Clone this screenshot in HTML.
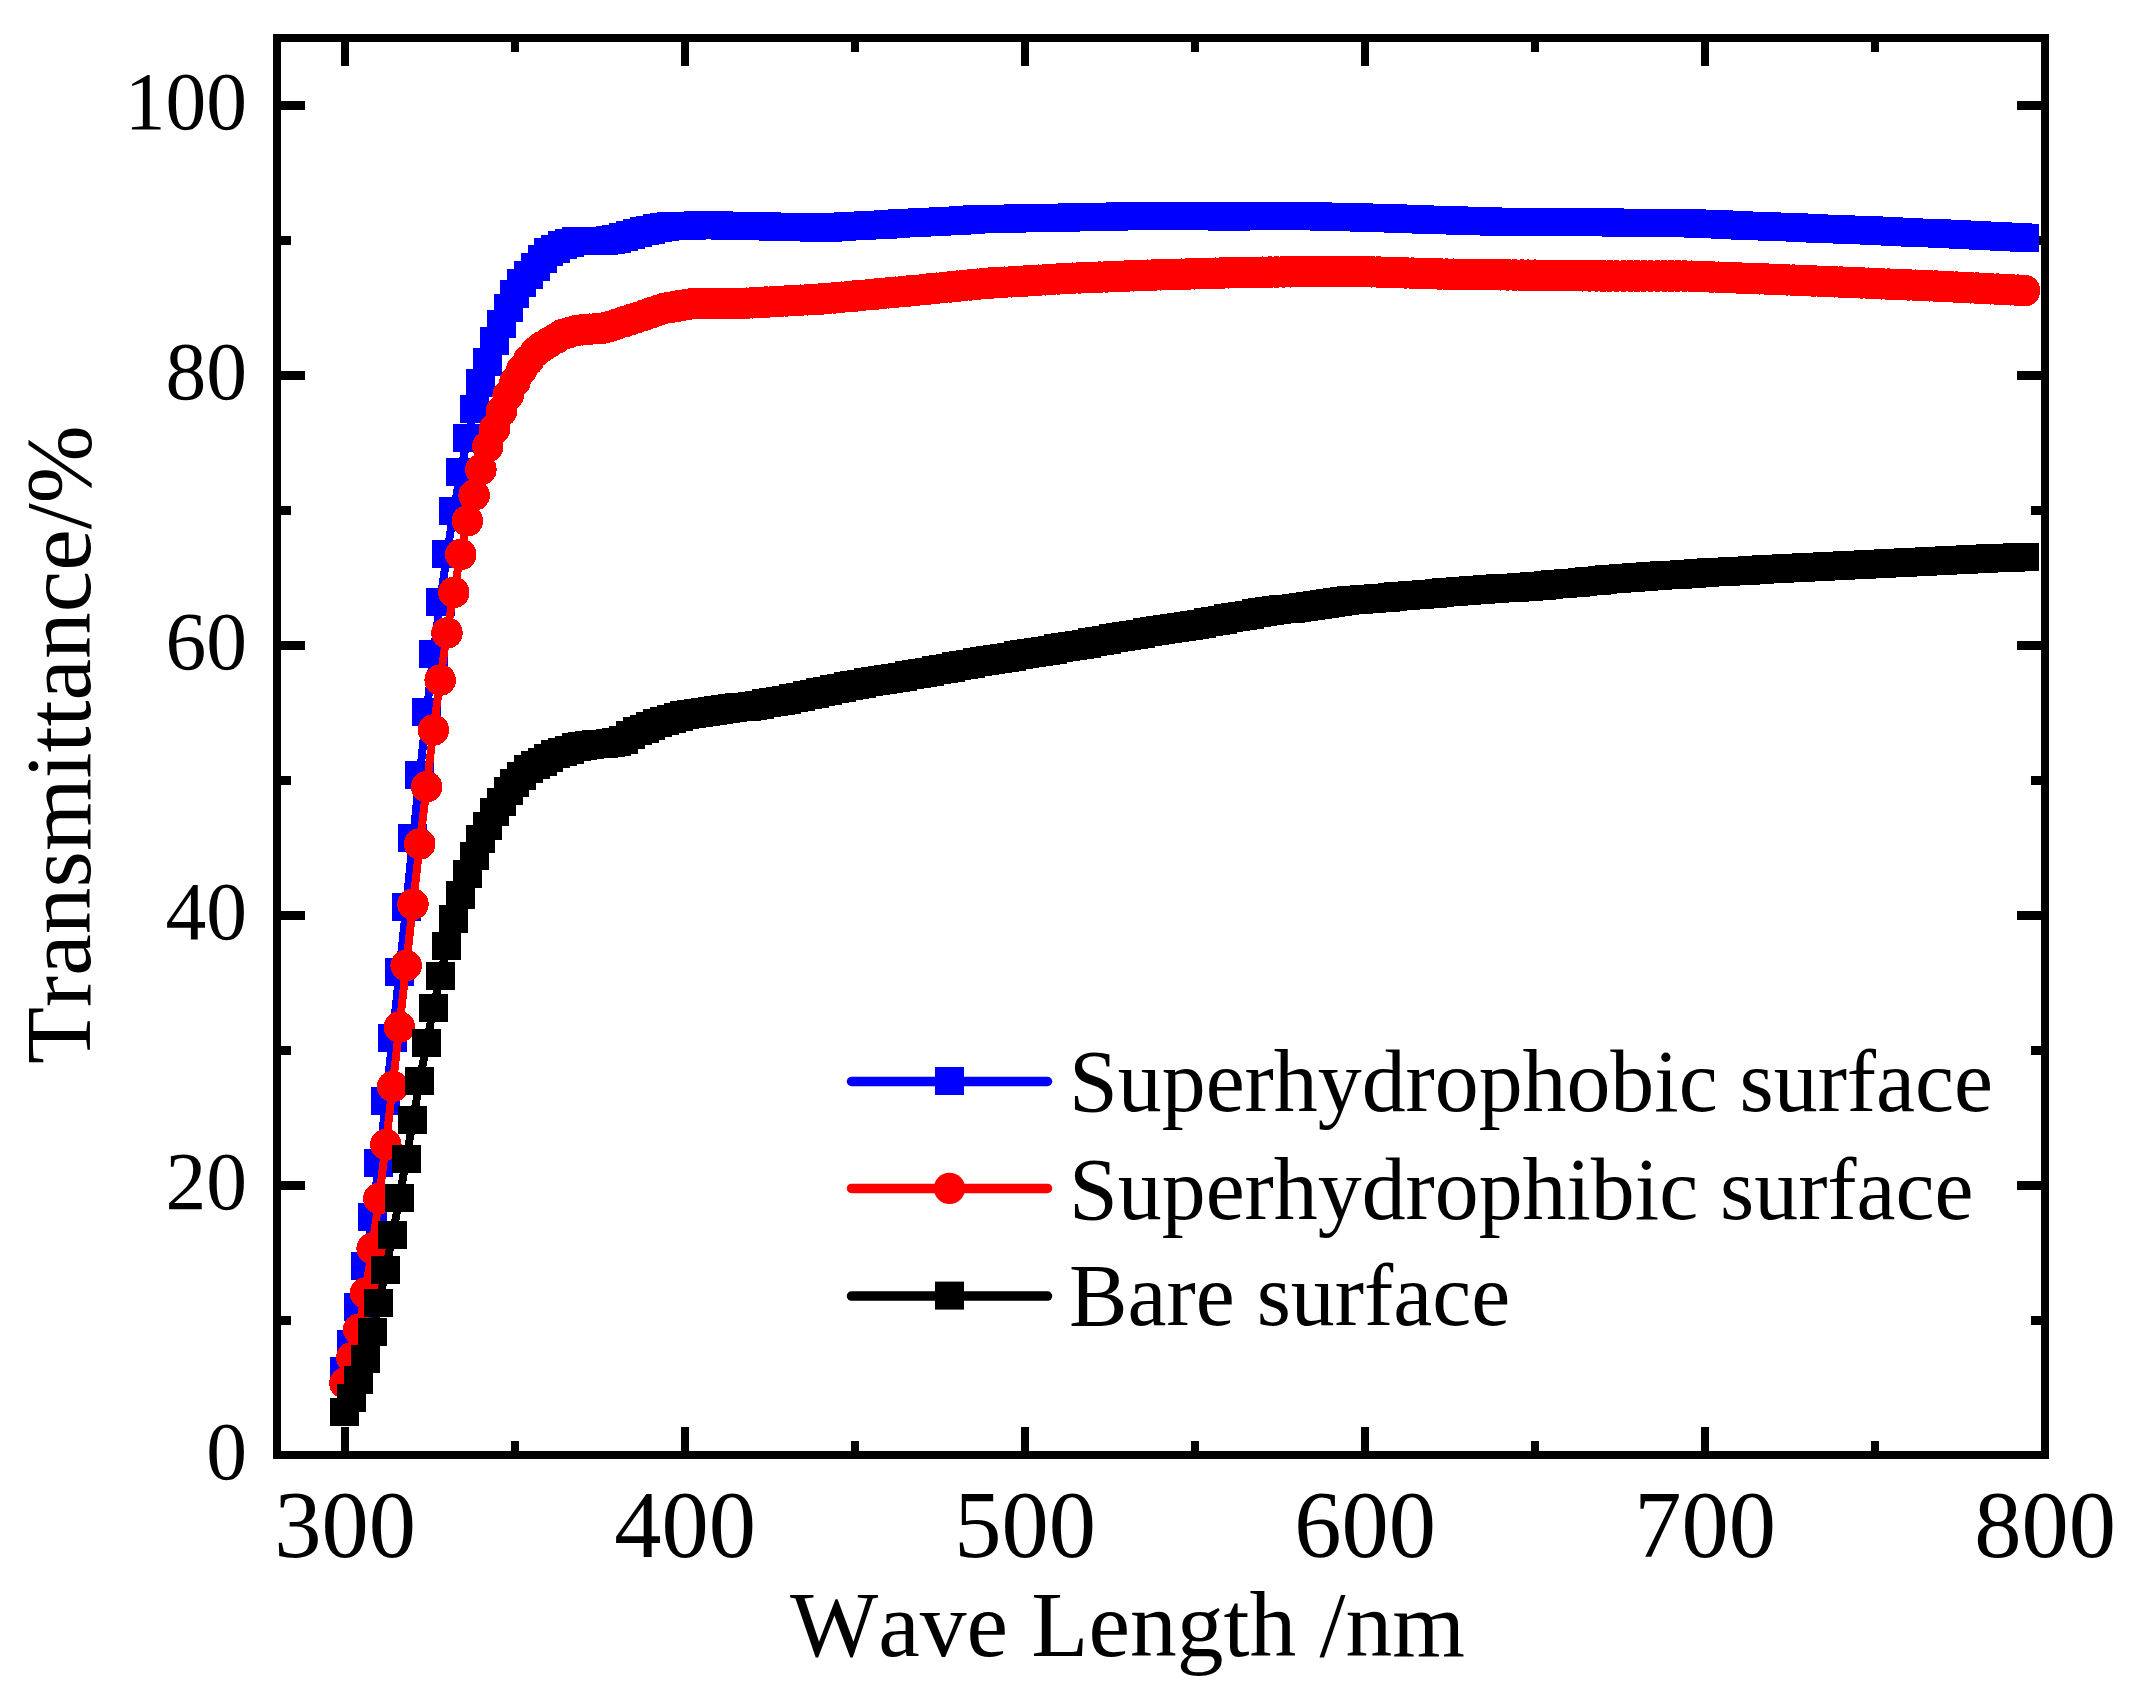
<!DOCTYPE html>
<html lang="en"><head><meta charset="utf-8"><title>Transmittance vs Wave Length</title>
<style>
html,body{margin:0;padding:0;background:#fff;}
body{width:2138px;height:1701px;overflow:hidden;}
svg{display:block;}
text{font-family:"Liberation Serif","Times New Roman",serif;fill:#000;font-kerning:none;}
.yt{font-size:81.5px;text-anchor:end;}
.xt{font-size:94.5px;text-anchor:middle;}
.ttl{font-size:93.5px;}
.lg{font-size:87.8px;}
</style></head><body>
<svg width="2138" height="1701" viewBox="0 0 2138 1701">
<rect width="2138" height="1701" fill="#fff"/>

<g fill="#000" shape-rendering="crispEdges">
<rect x="341" y="42" width="8" height="24"/>
<rect x="341" y="1427" width="8" height="24"/>
<rect x="681" y="42" width="8" height="24"/>
<rect x="681" y="1427" width="8" height="24"/>
<rect x="1021" y="42" width="8" height="24"/>
<rect x="1021" y="1427" width="8" height="24"/>
<rect x="1361" y="42" width="8" height="24"/>
<rect x="1361" y="1427" width="8" height="24"/>
<rect x="1701" y="42" width="8" height="24"/>
<rect x="1701" y="1427" width="8" height="24"/>
<rect x="511" y="42" width="8" height="10"/>
<rect x="511" y="1441" width="8" height="10"/>
<rect x="851" y="42" width="8" height="10"/>
<rect x="851" y="1441" width="8" height="10"/>
<rect x="1191" y="42" width="8" height="10"/>
<rect x="1191" y="1441" width="8" height="10"/>
<rect x="1531" y="42" width="8" height="10"/>
<rect x="1531" y="1441" width="8" height="10"/>
<rect x="1871" y="42" width="8" height="10"/>
<rect x="1871" y="1441" width="8" height="10"/>
<rect x="281" y="1180.5" width="24" height="9"/>
<rect x="2017" y="1180.5" width="24" height="9"/>
<rect x="281" y="910.5" width="24" height="9"/>
<rect x="2017" y="910.5" width="24" height="9"/>
<rect x="281" y="640.5" width="24" height="9"/>
<rect x="2017" y="640.5" width="24" height="9"/>
<rect x="281" y="370.5" width="24" height="9"/>
<rect x="2017" y="370.5" width="24" height="9"/>
<rect x="281" y="100.5" width="24" height="9"/>
<rect x="2017" y="100.5" width="24" height="9"/>
<rect x="281" y="1315.5" width="10" height="9"/>
<rect x="2031" y="1315.5" width="10" height="9"/>
<rect x="281" y="1045.5" width="10" height="9"/>
<rect x="2031" y="1045.5" width="10" height="9"/>
<rect x="281" y="775.5" width="10" height="9"/>
<rect x="2031" y="775.5" width="10" height="9"/>
<rect x="281" y="505.5" width="10" height="9"/>
<rect x="2031" y="505.5" width="10" height="9"/>
<rect x="281" y="235.5" width="10" height="9"/>
<rect x="2031" y="235.5" width="10" height="9"/>
</g>
<rect x="277" y="38" width="1768" height="1417" fill="none" stroke="#000" stroke-width="8" shape-rendering="crispEdges"/>
<g shape-rendering="crispEdges">
<polyline points="345,1371.3 351.8,1343.6 358.6,1307.2 365.4,1266 372.2,1217.4 379,1162.6 385.8,1101.3 392.6,1037.8 399.4,971.7 406.2,906.9 413,838.5 419.8,774.6 426.6,712.5 433.4,654.5 440.2,601.8 447,553.9 453.8,510.7 460.6,472.2 467.4,438.5 474.2,408.8 481,383.1 487.8,361.5 494.6,341.2 501.4,323.7 508.2,307.5 515,294 521.8,283.2 528.6,275.1 535.4,267 542.2,258.9 549,252.2 555.8,249.5 562.6,245.4 569.4,243.4 576.2,241.3 583,241.3 589.8,241.3 596.6,241.3 603.4,241.3 610.2,240.4 617,238.6 623.8,236.7 630.6,234.8 637.4,233 644.2,231.4 651,229.9 657.8,228.3 664.6,226.7 671.4,226.3 678.2,226.1 685,225.9 691.8,225.6 698.6,225.4 705.4,225.2 712.2,225.3 719,225.4 725.8,225.5 732.6,225.6 739.4,225.8 746.2,225.9 753,226.1 759.8,226.3 766.6,226.4 773.4,226.6 780.2,226.8 787,226.9 793.8,227.1 800.6,227.3 807.4,227.4 814.2,227.6 821,227.8 827.8,227.6 834.6,227.2 841.4,226.9 848.2,226.5 855,226.1 861.8,225.7 868.6,225.3 875.4,225 882.2,224.6 889,224.2 895.8,223.8 902.6,223.4 909.4,223.1 916.2,222.7 923,222.3 929.8,222 936.6,221.6 943.4,221.3 950.2,220.9 957,220.5 963.8,220.2 970.6,219.8 977.4,219.5 984.2,219.1 991,218.9 997.8,218.7 1004.6,218.6 1011.4,218.5 1018.2,218.4 1025,218.3 1031.8,218.1 1038.6,218 1045.4,217.9 1052.2,217.8 1059,217.6 1065.8,217.5 1072.6,217.4 1079.4,217.2 1086.2,217.1 1093,216.9 1099.8,216.8 1106.6,216.7 1113.4,216.5 1120.2,216.4 1127,216.2 1133.8,216.1 1140.6,215.9 1147.4,215.8 1154.2,215.7 1161,215.8 1167.8,215.9 1174.6,216 1181.4,216.1 1188.2,216.1 1195,216.2 1201.8,216.3 1208.6,216.4 1215.4,216.4 1222.2,216.5 1229,216.6 1235.8,216.6 1242.6,216.5 1249.4,216.3 1256.2,216.2 1263,216.1 1269.8,215.9 1276.6,215.8 1283.4,215.7 1290.2,215.9 1297,216 1303.8,216.2 1310.6,216.3 1317.4,216.5 1324.2,216.7 1331,216.8 1337.8,217 1344.6,217.1 1351.4,217.3 1358.2,217.4 1365,217.6 1371.8,217.8 1378.6,218 1385.4,218.3 1392.2,218.5 1399,218.7 1405.8,218.9 1412.6,219.1 1419.4,219.3 1426.2,219.5 1433,219.7 1439.8,220 1446.6,220.2 1453.4,220.4 1460.2,220.6 1467,220.8 1473.8,221 1480.6,221.2 1487.4,221.4 1494.2,221.6 1501,221.8 1507.8,222 1514.6,222.2 1521.4,222.4 1528.2,222.5 1535,222.5 1541.8,222.5 1548.6,222.5 1555.4,222.5 1562.2,222.5 1569,222.5 1575.8,222.5 1582.6,222.5 1589.4,222.5 1596.2,222.5 1603,222.5 1609.8,222.5 1616.6,222.6 1623.4,222.6 1630.2,222.7 1637,222.8 1643.8,222.8 1650.6,222.9 1657.4,223 1664.2,223 1671,223.1 1677.8,223.2 1684.6,223.2 1691.4,223.4 1698.2,223.7 1705,224 1711.8,224.2 1718.6,224.5 1725.4,224.8 1732.2,225 1739,225.3 1745.8,225.6 1752.6,225.8 1759.4,226.1 1766.2,226.4 1773,226.6 1779.8,226.9 1786.6,227.2 1793.4,227.5 1800.2,227.7 1807,228 1813.8,228.3 1820.6,228.5 1827.4,228.8 1834.2,229.1 1841,229.3 1847.8,229.6 1854.6,229.9 1861.4,230.2 1868.2,230.5 1875,230.8 1881.8,231.1 1888.6,231.3 1895.4,231.6 1902.2,231.9 1909,232.2 1915.8,232.5 1922.6,232.8 1929.4,233.1 1936.2,233.4 1943,233.8 1949.8,234.1 1956.6,234.4 1963.4,234.8 1970.2,235.1 1977,235.4 1983.8,235.8 1990.6,236.1 1997.4,236.5 2004.2,236.8 2011,237.1 2017.8,237.4 2024.6,237.7" fill="none" stroke="#0000ff" stroke-width="8" stroke-linejoin="round"/>
<path d="M330,1357h29v28h-29zM337,1330h29v28h-29zM344,1293h29v28h-29zM351,1252h29v28h-29zM358,1203h29v28h-29zM364,1149h29v28h-29zM371,1087h29v28h-29zM378,1024h29v28h-29zM385,958h29v28h-29zM392,893h29v28h-29zM398,824h29v28h-29zM405,761h29v28h-29zM412,698h29v28h-29zM419,640h29v28h-29zM426,588h29v28h-29zM432,540h29v28h-29zM439,497h29v28h-29zM446,458h29v28h-29zM453,424h29v28h-29zM460,395h29v28h-29zM466,369h29v28h-29zM473,348h29v28h-29zM480,327h29v28h-29zM487,310h29v28h-29zM494,294h29v28h-29zM500,280h29v28h-29zM507,269h29v28h-29zM514,261h29v28h-29zM521,253h29v28h-29zM528,245h29v28h-29zM534,238h29v28h-29zM541,235h29v28h-29zM548,231h29v28h-29zM555,229h29v28h-29zM562,227h29v28h-29zM568,227h29v28h-29zM575,227h29v28h-29zM582,227h29v28h-29zM589,227h29v28h-29zM596,226h29v28h-29zM602,225h29v28h-29zM609,223h29v28h-29zM616,221h29v28h-29zM623,219h29v28h-29zM630,217h29v28h-29zM636,216h29v28h-29zM643,214h29v28h-29zM650,213h29v28h-29zM657,212h29v28h-29zM664,212h29v28h-29zM670,212h29v28h-29zM677,212h29v28h-29zM684,211h29v28h-29zM691,211h29v28h-29zM698,211h29v28h-29zM704,211h29v28h-29zM711,212h29v28h-29zM718,212h29v28h-29zM725,212h29v28h-29zM732,212h29v28h-29zM738,212h29v28h-29zM745,212h29v28h-29zM752,212h29v28h-29zM759,213h29v28h-29zM766,213h29v28h-29zM772,213h29v28h-29zM779,213h29v28h-29zM786,213h29v28h-29zM793,213h29v28h-29zM800,214h29v28h-29zM806,214h29v28h-29zM813,214h29v28h-29zM820,213h29v28h-29zM827,213h29v28h-29zM834,212h29v28h-29zM840,212h29v28h-29zM847,212h29v28h-29zM854,211h29v28h-29zM861,211h29v28h-29zM868,211h29v28h-29zM874,210h29v28h-29zM881,210h29v28h-29zM888,209h29v28h-29zM895,209h29v28h-29zM902,209h29v28h-29zM908,208h29v28h-29zM915,208h29v28h-29zM922,208h29v28h-29zM929,207h29v28h-29zM936,207h29v28h-29zM942,207h29v28h-29zM949,206h29v28h-29zM956,206h29v28h-29zM963,205h29v28h-29zM970,205h29v28h-29zM976,205h29v28h-29zM983,205h29v28h-29zM990,205h29v28h-29zM997,205h29v28h-29zM1004,204h29v28h-29zM1010,204h29v28h-29zM1017,204h29v28h-29zM1024,204h29v28h-29zM1031,204h29v28h-29zM1038,204h29v28h-29zM1044,204h29v28h-29zM1051,204h29v28h-29zM1058,203h29v28h-29zM1065,203h29v28h-29zM1072,203h29v28h-29zM1078,203h29v28h-29zM1085,203h29v28h-29zM1092,203h29v28h-29zM1099,203h29v28h-29zM1106,202h29v28h-29zM1112,202h29v28h-29zM1119,202h29v28h-29zM1126,202h29v28h-29zM1133,202h29v28h-29zM1140,202h29v28h-29zM1146,202h29v28h-29zM1153,202h29v28h-29zM1160,202h29v28h-29zM1167,202h29v28h-29zM1174,202h29v28h-29zM1180,202h29v28h-29zM1187,202h29v28h-29zM1194,202h29v28h-29zM1201,202h29v28h-29zM1208,203h29v28h-29zM1214,203h29v28h-29zM1221,203h29v28h-29zM1228,202h29v28h-29zM1235,202h29v28h-29zM1242,202h29v28h-29zM1248,202h29v28h-29zM1255,202h29v28h-29zM1262,202h29v28h-29zM1269,202h29v28h-29zM1276,202h29v28h-29zM1282,202h29v28h-29zM1289,202h29v28h-29zM1296,202h29v28h-29zM1303,202h29v28h-29zM1310,203h29v28h-29zM1316,203h29v28h-29zM1323,203h29v28h-29zM1330,203h29v28h-29zM1337,203h29v28h-29zM1344,203h29v28h-29zM1350,204h29v28h-29zM1357,204h29v28h-29zM1364,204h29v28h-29zM1371,204h29v28h-29zM1378,204h29v28h-29zM1384,205h29v28h-29zM1391,205h29v28h-29zM1398,205h29v28h-29zM1405,205h29v28h-29zM1412,206h29v28h-29zM1418,206h29v28h-29zM1425,206h29v28h-29zM1432,206h29v28h-29zM1439,206h29v28h-29zM1446,207h29v28h-29zM1452,207h29v28h-29zM1459,207h29v28h-29zM1466,207h29v28h-29zM1473,207h29v28h-29zM1480,208h29v28h-29zM1486,208h29v28h-29zM1493,208h29v28h-29zM1500,208h29v28h-29zM1507,208h29v28h-29zM1514,208h29v28h-29zM1520,208h29v28h-29zM1527,208h29v28h-29zM1534,208h29v28h-29zM1541,208h29v28h-29zM1548,208h29v28h-29zM1554,208h29v28h-29zM1561,208h29v28h-29zM1568,208h29v28h-29zM1575,208h29v28h-29zM1582,208h29v28h-29zM1588,208h29v28h-29zM1595,208h29v28h-29zM1602,209h29v28h-29zM1609,209h29v28h-29zM1616,209h29v28h-29zM1622,209h29v28h-29zM1629,209h29v28h-29zM1636,209h29v28h-29zM1643,209h29v28h-29zM1650,209h29v28h-29zM1656,209h29v28h-29zM1663,209h29v28h-29zM1670,209h29v28h-29zM1677,209h29v28h-29zM1684,210h29v28h-29zM1690,210h29v28h-29zM1697,210h29v28h-29zM1704,210h29v28h-29zM1711,211h29v28h-29zM1718,211h29v28h-29zM1724,211h29v28h-29zM1731,212h29v28h-29zM1738,212h29v28h-29zM1745,212h29v28h-29zM1752,212h29v28h-29zM1758,213h29v28h-29zM1765,213h29v28h-29zM1772,213h29v28h-29zM1779,213h29v28h-29zM1786,214h29v28h-29zM1792,214h29v28h-29zM1799,214h29v28h-29zM1806,215h29v28h-29zM1813,215h29v28h-29zM1820,215h29v28h-29zM1826,215h29v28h-29zM1833,216h29v28h-29zM1840,216h29v28h-29zM1847,216h29v28h-29zM1854,216h29v28h-29zM1860,217h29v28h-29zM1867,217h29v28h-29zM1874,217h29v28h-29zM1881,218h29v28h-29zM1888,218h29v28h-29zM1894,218h29v28h-29zM1901,219h29v28h-29zM1908,219h29v28h-29zM1915,219h29v28h-29zM1922,219h29v28h-29zM1928,220h29v28h-29zM1935,220h29v28h-29zM1942,220h29v28h-29zM1949,221h29v28h-29zM1956,221h29v28h-29zM1962,221h29v28h-29zM1969,222h29v28h-29zM1976,222h29v28h-29zM1983,222h29v28h-29zM1990,223h29v28h-29zM1996,223h29v28h-29zM2003,223h29v28h-29zM2010,224h29v28h-29z" fill="#0000ff"/>
<polyline points="345,1383.2 351.8,1357.8 358.6,1329.5 365.4,1293 372.2,1248.5 379,1198.5 385.8,1144.5 392.6,1086.5 399.4,1027 406.2,965.5 413,904.2 419.8,844 426.6,786.8 433.4,730 440.2,680.1 447,632.9 453.8,592.4 460.6,554.5 467.4,520.8 474.2,495.2 481,469.5 487.8,446.5 494.6,429 501.4,411.5 508.2,395.2 515,381.8 521.8,369.6 528.6,360.2 535.4,352 542.2,346.7 549,342.6 555.8,338.5 562.6,334.5 569.4,332.5 576.2,330.5 583,329.8 589.8,329.2 596.6,328.6 603.4,328 610.2,326.3 617,324.1 623.8,321.9 630.6,319.7 637.4,317.5 644.2,315.2 651,312.8 657.8,310.5 664.6,308.2 671.4,307.1 678.2,306 685,304.9 691.8,303.8 698.6,303.5 705.4,303.5 712.2,303.5 719,303.5 725.8,303.5 732.6,303.5 739.4,303.5 746.2,303.2 753,302.8 759.8,302.4 766.6,302.1 773.4,301.7 780.2,301.3 787,300.9 793.8,300.5 800.6,300.2 807.4,299.8 814.2,299.4 821,299 827.8,298.5 834.6,297.9 841.4,297.2 848.2,296.6 855,296 861.8,295.3 868.6,294.7 875.4,294.1 882.2,293.5 889,292.8 895.8,292.2 902.6,291.6 909.4,290.9 916.2,290.3 923,289.6 929.8,288.9 936.6,288.2 943.4,287.6 950.2,286.9 957,286.2 963.8,285.5 970.6,284.9 977.4,284.2 984.2,283.5 991,283 997.8,282.6 1004.6,282.2 1011.4,281.8 1018.2,281.4 1025,281 1031.8,280.6 1038.6,280.2 1045.4,279.8 1052.2,279.3 1059,278.9 1065.8,278.5 1072.6,278.2 1079.4,277.9 1086.2,277.7 1093,277.4 1099.8,277.1 1106.6,276.9 1113.4,276.6 1120.2,276.3 1127,276 1133.8,275.8 1140.6,275.5 1147.4,275.2 1154.2,275 1161,274.8 1167.8,274.6 1174.6,274.4 1181.4,274.2 1188.2,274 1195,273.8 1201.8,273.6 1208.6,273.4 1215.4,273.2 1222.2,273 1229,272.8 1235.8,272.6 1242.6,272.5 1249.4,272.4 1256.2,272.3 1263,272.2 1269.8,272.1 1276.6,272 1283.4,271.9 1290.2,271.8 1297,271.7 1303.8,271.6 1310.6,271.5 1317.4,271.5 1324.2,271.5 1331,271.5 1337.8,271.5 1344.6,271.5 1351.4,271.5 1358.2,271.5 1365,271.6 1371.8,271.8 1378.6,272 1385.4,272.3 1392.2,272.5 1399,272.7 1405.8,272.9 1412.6,273.1 1419.4,273.3 1426.2,273.5 1433,273.7 1439.8,274 1446.6,274.1 1453.4,274.2 1460.2,274.3 1467,274.4 1473.8,274.4 1480.6,274.5 1487.4,274.6 1494.2,274.7 1501,274.8 1507.8,274.9 1514.6,275 1521.4,275.1 1528.2,275.2 1535,275.2 1541.8,275.3 1548.6,275.4 1555.4,275.5 1562.2,275.5 1569,275.6 1575.8,275.7 1582.6,275.8 1589.4,275.9 1596.2,275.9 1603,276 1609.8,276 1616.6,276 1623.4,276 1630.2,276 1637,276 1643.8,276 1650.6,276 1657.4,276 1664.2,276 1671,276 1677.8,276 1684.6,276 1691.4,276.2 1698.2,276.5 1705,276.7 1711.8,277 1718.6,277.2 1725.4,277.5 1732.2,277.7 1739,278 1745.8,278.3 1752.6,278.5 1759.4,278.8 1766.2,279 1773,279.3 1779.8,279.6 1786.6,279.9 1793.4,280.1 1800.2,280.4 1807,280.7 1813.8,281 1820.6,281.3 1827.4,281.5 1834.2,281.8 1841,282.1 1847.8,282.4 1854.6,282.7 1861.4,282.9 1868.2,283.2 1875,283.5 1881.8,283.8 1888.6,284.1 1895.4,284.4 1902.2,284.6 1909,284.9 1915.8,285.2 1922.6,285.5 1929.4,285.8 1936.2,286.1 1943,286.4 1949.8,286.7 1956.6,287.1 1963.4,287.4 1970.2,287.8 1977,288.1 1983.8,288.4 1990.6,288.8 1997.4,289.1 2004.2,289.4 2011,289.8 2017.8,290.2 2024.6,290.6" fill="none" stroke="#ff0000" stroke-width="8" stroke-linejoin="round"/>
<path d="M329.2,1383.2a15.75,15.75 0 1,0 31.5,0a15.75,15.75 0 1,0 -31.5,0zM336.1,1357.8a15.75,15.75 0 1,0 31.5,0a15.75,15.75 0 1,0 -31.5,0zM342.9,1329.5a15.75,15.75 0 1,0 31.5,0a15.75,15.75 0 1,0 -31.5,0zM349.6,1293a15.75,15.75 0 1,0 31.5,0a15.75,15.75 0 1,0 -31.5,0zM356.4,1248.5a15.75,15.75 0 1,0 31.5,0a15.75,15.75 0 1,0 -31.5,0zM363.2,1198.5a15.75,15.75 0 1,0 31.5,0a15.75,15.75 0 1,0 -31.5,0zM370.1,1144.5a15.75,15.75 0 1,0 31.5,0a15.75,15.75 0 1,0 -31.5,0zM376.9,1086.5a15.75,15.75 0 1,0 31.5,0a15.75,15.75 0 1,0 -31.5,0zM383.6,1027a15.75,15.75 0 1,0 31.5,0a15.75,15.75 0 1,0 -31.5,0zM390.4,965.5a15.75,15.75 0 1,0 31.5,0a15.75,15.75 0 1,0 -31.5,0zM397.2,904.2a15.75,15.75 0 1,0 31.5,0a15.75,15.75 0 1,0 -31.5,0zM404,844a15.75,15.75 0 1,0 31.5,0a15.75,15.75 0 1,0 -31.5,0zM410.9,786.8a15.75,15.75 0 1,0 31.5,0a15.75,15.75 0 1,0 -31.5,0zM417.6,730a15.75,15.75 0 1,0 31.5,0a15.75,15.75 0 1,0 -31.5,0zM424.4,680.1a15.75,15.75 0 1,0 31.5,0a15.75,15.75 0 1,0 -31.5,0zM431.2,632.9a15.75,15.75 0 1,0 31.5,0a15.75,15.75 0 1,0 -31.5,0zM438,592.4a15.75,15.75 0 1,0 31.5,0a15.75,15.75 0 1,0 -31.5,0zM444.9,554.5a15.75,15.75 0 1,0 31.5,0a15.75,15.75 0 1,0 -31.5,0zM451.6,520.8a15.75,15.75 0 1,0 31.5,0a15.75,15.75 0 1,0 -31.5,0zM458.4,495.2a15.75,15.75 0 1,0 31.5,0a15.75,15.75 0 1,0 -31.5,0zM465.2,469.5a15.75,15.75 0 1,0 31.5,0a15.75,15.75 0 1,0 -31.5,0zM472,446.5a15.75,15.75 0 1,0 31.5,0a15.75,15.75 0 1,0 -31.5,0zM478.9,429a15.75,15.75 0 1,0 31.5,0a15.75,15.75 0 1,0 -31.5,0zM485.6,411.5a15.75,15.75 0 1,0 31.5,0a15.75,15.75 0 1,0 -31.5,0zM492.4,395.2a15.75,15.75 0 1,0 31.5,0a15.75,15.75 0 1,0 -31.5,0zM499.2,381.8a15.75,15.75 0 1,0 31.5,0a15.75,15.75 0 1,0 -31.5,0zM506,369.6a15.75,15.75 0 1,0 31.5,0a15.75,15.75 0 1,0 -31.5,0zM512.9,360.2a15.75,15.75 0 1,0 31.5,0a15.75,15.75 0 1,0 -31.5,0zM519.6,352a15.75,15.75 0 1,0 31.5,0a15.75,15.75 0 1,0 -31.5,0zM526.5,346.7a15.75,15.75 0 1,0 31.5,0a15.75,15.75 0 1,0 -31.5,0zM533.2,342.6a15.75,15.75 0 1,0 31.5,0a15.75,15.75 0 1,0 -31.5,0zM540,338.5a15.75,15.75 0 1,0 31.5,0a15.75,15.75 0 1,0 -31.5,0zM546.8,334.5a15.75,15.75 0 1,0 31.5,0a15.75,15.75 0 1,0 -31.5,0zM553.6,332.5a15.75,15.75 0 1,0 31.5,0a15.75,15.75 0 1,0 -31.5,0zM560.5,330.5a15.75,15.75 0 1,0 31.5,0a15.75,15.75 0 1,0 -31.5,0zM567.2,329.8a15.75,15.75 0 1,0 31.5,0a15.75,15.75 0 1,0 -31.5,0zM574,329.2a15.75,15.75 0 1,0 31.5,0a15.75,15.75 0 1,0 -31.5,0zM580.8,328.6a15.75,15.75 0 1,0 31.5,0a15.75,15.75 0 1,0 -31.5,0zM587.6,328a15.75,15.75 0 1,0 31.5,0a15.75,15.75 0 1,0 -31.5,0zM594.5,326.3a15.75,15.75 0 1,0 31.5,0a15.75,15.75 0 1,0 -31.5,0zM601.2,324.1a15.75,15.75 0 1,0 31.5,0a15.75,15.75 0 1,0 -31.5,0zM608,321.9a15.75,15.75 0 1,0 31.5,0a15.75,15.75 0 1,0 -31.5,0zM614.8,319.7a15.75,15.75 0 1,0 31.5,0a15.75,15.75 0 1,0 -31.5,0zM621.6,317.5a15.75,15.75 0 1,0 31.5,0a15.75,15.75 0 1,0 -31.5,0zM628.5,315.2a15.75,15.75 0 1,0 31.5,0a15.75,15.75 0 1,0 -31.5,0zM635.2,312.8a15.75,15.75 0 1,0 31.5,0a15.75,15.75 0 1,0 -31.5,0zM642,310.5a15.75,15.75 0 1,0 31.5,0a15.75,15.75 0 1,0 -31.5,0zM648.8,308.2a15.75,15.75 0 1,0 31.5,0a15.75,15.75 0 1,0 -31.5,0zM655.6,307.1a15.75,15.75 0 1,0 31.5,0a15.75,15.75 0 1,0 -31.5,0zM662.5,306a15.75,15.75 0 1,0 31.5,0a15.75,15.75 0 1,0 -31.5,0zM669.2,304.9a15.75,15.75 0 1,0 31.5,0a15.75,15.75 0 1,0 -31.5,0zM676,303.8a15.75,15.75 0 1,0 31.5,0a15.75,15.75 0 1,0 -31.5,0zM682.8,303.5a15.75,15.75 0 1,0 31.5,0a15.75,15.75 0 1,0 -31.5,0zM689.6,303.5a15.75,15.75 0 1,0 31.5,0a15.75,15.75 0 1,0 -31.5,0zM696.5,303.5a15.75,15.75 0 1,0 31.5,0a15.75,15.75 0 1,0 -31.5,0zM703.2,303.5a15.75,15.75 0 1,0 31.5,0a15.75,15.75 0 1,0 -31.5,0zM710,303.5a15.75,15.75 0 1,0 31.5,0a15.75,15.75 0 1,0 -31.5,0zM716.8,303.5a15.75,15.75 0 1,0 31.5,0a15.75,15.75 0 1,0 -31.5,0zM723.6,303.5a15.75,15.75 0 1,0 31.5,0a15.75,15.75 0 1,0 -31.5,0zM730.5,303.2a15.75,15.75 0 1,0 31.5,0a15.75,15.75 0 1,0 -31.5,0zM737.2,302.8a15.75,15.75 0 1,0 31.5,0a15.75,15.75 0 1,0 -31.5,0zM744,302.4a15.75,15.75 0 1,0 31.5,0a15.75,15.75 0 1,0 -31.5,0zM750.8,302.1a15.75,15.75 0 1,0 31.5,0a15.75,15.75 0 1,0 -31.5,0zM757.6,301.7a15.75,15.75 0 1,0 31.5,0a15.75,15.75 0 1,0 -31.5,0zM764.5,301.3a15.75,15.75 0 1,0 31.5,0a15.75,15.75 0 1,0 -31.5,0zM771.2,300.9a15.75,15.75 0 1,0 31.5,0a15.75,15.75 0 1,0 -31.5,0zM778,300.5a15.75,15.75 0 1,0 31.5,0a15.75,15.75 0 1,0 -31.5,0zM784.9,300.2a15.75,15.75 0 1,0 31.5,0a15.75,15.75 0 1,0 -31.5,0zM791.6,299.8a15.75,15.75 0 1,0 31.5,0a15.75,15.75 0 1,0 -31.5,0zM798.4,299.4a15.75,15.75 0 1,0 31.5,0a15.75,15.75 0 1,0 -31.5,0zM805.2,299a15.75,15.75 0 1,0 31.5,0a15.75,15.75 0 1,0 -31.5,0zM812,298.5a15.75,15.75 0 1,0 31.5,0a15.75,15.75 0 1,0 -31.5,0zM818.9,297.9a15.75,15.75 0 1,0 31.5,0a15.75,15.75 0 1,0 -31.5,0zM825.6,297.2a15.75,15.75 0 1,0 31.5,0a15.75,15.75 0 1,0 -31.5,0zM832.4,296.6a15.75,15.75 0 1,0 31.5,0a15.75,15.75 0 1,0 -31.5,0zM839.2,296a15.75,15.75 0 1,0 31.5,0a15.75,15.75 0 1,0 -31.5,0zM846,295.3a15.75,15.75 0 1,0 31.5,0a15.75,15.75 0 1,0 -31.5,0zM852.9,294.7a15.75,15.75 0 1,0 31.5,0a15.75,15.75 0 1,0 -31.5,0zM859.6,294.1a15.75,15.75 0 1,0 31.5,0a15.75,15.75 0 1,0 -31.5,0zM866.4,293.5a15.75,15.75 0 1,0 31.5,0a15.75,15.75 0 1,0 -31.5,0zM873.2,292.8a15.75,15.75 0 1,0 31.5,0a15.75,15.75 0 1,0 -31.5,0zM880,292.2a15.75,15.75 0 1,0 31.5,0a15.75,15.75 0 1,0 -31.5,0zM886.9,291.6a15.75,15.75 0 1,0 31.5,0a15.75,15.75 0 1,0 -31.5,0zM893.6,290.9a15.75,15.75 0 1,0 31.5,0a15.75,15.75 0 1,0 -31.5,0zM900.4,290.3a15.75,15.75 0 1,0 31.5,0a15.75,15.75 0 1,0 -31.5,0zM907.2,289.6a15.75,15.75 0 1,0 31.5,0a15.75,15.75 0 1,0 -31.5,0zM914,288.9a15.75,15.75 0 1,0 31.5,0a15.75,15.75 0 1,0 -31.5,0zM920.9,288.2a15.75,15.75 0 1,0 31.5,0a15.75,15.75 0 1,0 -31.5,0zM927.6,287.6a15.75,15.75 0 1,0 31.5,0a15.75,15.75 0 1,0 -31.5,0zM934.4,286.9a15.75,15.75 0 1,0 31.5,0a15.75,15.75 0 1,0 -31.5,0zM941.2,286.2a15.75,15.75 0 1,0 31.5,0a15.75,15.75 0 1,0 -31.5,0zM948,285.5a15.75,15.75 0 1,0 31.5,0a15.75,15.75 0 1,0 -31.5,0zM954.9,284.9a15.75,15.75 0 1,0 31.5,0a15.75,15.75 0 1,0 -31.5,0zM961.6,284.2a15.75,15.75 0 1,0 31.5,0a15.75,15.75 0 1,0 -31.5,0zM968.4,283.5a15.75,15.75 0 1,0 31.5,0a15.75,15.75 0 1,0 -31.5,0zM975.2,283a15.75,15.75 0 1,0 31.5,0a15.75,15.75 0 1,0 -31.5,0zM982,282.6a15.75,15.75 0 1,0 31.5,0a15.75,15.75 0 1,0 -31.5,0zM988.9,282.2a15.75,15.75 0 1,0 31.5,0a15.75,15.75 0 1,0 -31.5,0zM995.6,281.8a15.75,15.75 0 1,0 31.5,0a15.75,15.75 0 1,0 -31.5,0zM1002.4,281.4a15.75,15.75 0 1,0 31.5,0a15.75,15.75 0 1,0 -31.5,0zM1009.2,281a15.75,15.75 0 1,0 31.5,0a15.75,15.75 0 1,0 -31.5,0zM1016,280.6a15.75,15.75 0 1,0 31.5,0a15.75,15.75 0 1,0 -31.5,0zM1022.8,280.2a15.75,15.75 0 1,0 31.5,0a15.75,15.75 0 1,0 -31.5,0zM1029.7,279.8a15.75,15.75 0 1,0 31.5,0a15.75,15.75 0 1,0 -31.5,0zM1036.4,279.3a15.75,15.75 0 1,0 31.5,0a15.75,15.75 0 1,0 -31.5,0zM1043.2,278.9a15.75,15.75 0 1,0 31.5,0a15.75,15.75 0 1,0 -31.5,0zM1050,278.5a15.75,15.75 0 1,0 31.5,0a15.75,15.75 0 1,0 -31.5,0zM1056.8,278.2a15.75,15.75 0 1,0 31.5,0a15.75,15.75 0 1,0 -31.5,0zM1063.7,277.9a15.75,15.75 0 1,0 31.5,0a15.75,15.75 0 1,0 -31.5,0zM1070.4,277.7a15.75,15.75 0 1,0 31.5,0a15.75,15.75 0 1,0 -31.5,0zM1077.2,277.4a15.75,15.75 0 1,0 31.5,0a15.75,15.75 0 1,0 -31.5,0zM1084,277.1a15.75,15.75 0 1,0 31.5,0a15.75,15.75 0 1,0 -31.5,0zM1090.8,276.9a15.75,15.75 0 1,0 31.5,0a15.75,15.75 0 1,0 -31.5,0zM1097.7,276.6a15.75,15.75 0 1,0 31.5,0a15.75,15.75 0 1,0 -31.5,0zM1104.4,276.3a15.75,15.75 0 1,0 31.5,0a15.75,15.75 0 1,0 -31.5,0zM1111.2,276a15.75,15.75 0 1,0 31.5,0a15.75,15.75 0 1,0 -31.5,0zM1118,275.8a15.75,15.75 0 1,0 31.5,0a15.75,15.75 0 1,0 -31.5,0zM1124.8,275.5a15.75,15.75 0 1,0 31.5,0a15.75,15.75 0 1,0 -31.5,0zM1131.7,275.2a15.75,15.75 0 1,0 31.5,0a15.75,15.75 0 1,0 -31.5,0zM1138.4,275a15.75,15.75 0 1,0 31.5,0a15.75,15.75 0 1,0 -31.5,0zM1145.2,274.8a15.75,15.75 0 1,0 31.5,0a15.75,15.75 0 1,0 -31.5,0zM1152,274.6a15.75,15.75 0 1,0 31.5,0a15.75,15.75 0 1,0 -31.5,0zM1158.8,274.4a15.75,15.75 0 1,0 31.5,0a15.75,15.75 0 1,0 -31.5,0zM1165.7,274.2a15.75,15.75 0 1,0 31.5,0a15.75,15.75 0 1,0 -31.5,0zM1172.4,274a15.75,15.75 0 1,0 31.5,0a15.75,15.75 0 1,0 -31.5,0zM1179.2,273.8a15.75,15.75 0 1,0 31.5,0a15.75,15.75 0 1,0 -31.5,0zM1186,273.6a15.75,15.75 0 1,0 31.5,0a15.75,15.75 0 1,0 -31.5,0zM1192.8,273.4a15.75,15.75 0 1,0 31.5,0a15.75,15.75 0 1,0 -31.5,0zM1199.7,273.2a15.75,15.75 0 1,0 31.5,0a15.75,15.75 0 1,0 -31.5,0zM1206.4,273a15.75,15.75 0 1,0 31.5,0a15.75,15.75 0 1,0 -31.5,0zM1213.2,272.8a15.75,15.75 0 1,0 31.5,0a15.75,15.75 0 1,0 -31.5,0zM1220,272.6a15.75,15.75 0 1,0 31.5,0a15.75,15.75 0 1,0 -31.5,0zM1226.8,272.5a15.75,15.75 0 1,0 31.5,0a15.75,15.75 0 1,0 -31.5,0zM1233.7,272.4a15.75,15.75 0 1,0 31.5,0a15.75,15.75 0 1,0 -31.5,0zM1240.4,272.3a15.75,15.75 0 1,0 31.5,0a15.75,15.75 0 1,0 -31.5,0zM1247.2,272.2a15.75,15.75 0 1,0 31.5,0a15.75,15.75 0 1,0 -31.5,0zM1254,272.1a15.75,15.75 0 1,0 31.5,0a15.75,15.75 0 1,0 -31.5,0zM1260.8,272a15.75,15.75 0 1,0 31.5,0a15.75,15.75 0 1,0 -31.5,0zM1267.7,271.9a15.75,15.75 0 1,0 31.5,0a15.75,15.75 0 1,0 -31.5,0zM1274.4,271.8a15.75,15.75 0 1,0 31.5,0a15.75,15.75 0 1,0 -31.5,0zM1281.2,271.7a15.75,15.75 0 1,0 31.5,0a15.75,15.75 0 1,0 -31.5,0zM1288,271.6a15.75,15.75 0 1,0 31.5,0a15.75,15.75 0 1,0 -31.5,0zM1294.8,271.5a15.75,15.75 0 1,0 31.5,0a15.75,15.75 0 1,0 -31.5,0zM1301.6,271.5a15.75,15.75 0 1,0 31.5,0a15.75,15.75 0 1,0 -31.5,0zM1308.5,271.5a15.75,15.75 0 1,0 31.5,0a15.75,15.75 0 1,0 -31.5,0zM1315.2,271.5a15.75,15.75 0 1,0 31.5,0a15.75,15.75 0 1,0 -31.5,0zM1322,271.5a15.75,15.75 0 1,0 31.5,0a15.75,15.75 0 1,0 -31.5,0zM1328.8,271.5a15.75,15.75 0 1,0 31.5,0a15.75,15.75 0 1,0 -31.5,0zM1335.6,271.5a15.75,15.75 0 1,0 31.5,0a15.75,15.75 0 1,0 -31.5,0zM1342.5,271.5a15.75,15.75 0 1,0 31.5,0a15.75,15.75 0 1,0 -31.5,0zM1349.2,271.6a15.75,15.75 0 1,0 31.5,0a15.75,15.75 0 1,0 -31.5,0zM1356,271.8a15.75,15.75 0 1,0 31.5,0a15.75,15.75 0 1,0 -31.5,0zM1362.8,272a15.75,15.75 0 1,0 31.5,0a15.75,15.75 0 1,0 -31.5,0zM1369.6,272.3a15.75,15.75 0 1,0 31.5,0a15.75,15.75 0 1,0 -31.5,0zM1376.5,272.5a15.75,15.75 0 1,0 31.5,0a15.75,15.75 0 1,0 -31.5,0zM1383.2,272.7a15.75,15.75 0 1,0 31.5,0a15.75,15.75 0 1,0 -31.5,0zM1390,272.9a15.75,15.75 0 1,0 31.5,0a15.75,15.75 0 1,0 -31.5,0zM1396.8,273.1a15.75,15.75 0 1,0 31.5,0a15.75,15.75 0 1,0 -31.5,0zM1403.6,273.3a15.75,15.75 0 1,0 31.5,0a15.75,15.75 0 1,0 -31.5,0zM1410.5,273.5a15.75,15.75 0 1,0 31.5,0a15.75,15.75 0 1,0 -31.5,0zM1417.2,273.7a15.75,15.75 0 1,0 31.5,0a15.75,15.75 0 1,0 -31.5,0zM1424,274a15.75,15.75 0 1,0 31.5,0a15.75,15.75 0 1,0 -31.5,0zM1430.8,274.1a15.75,15.75 0 1,0 31.5,0a15.75,15.75 0 1,0 -31.5,0zM1437.6,274.2a15.75,15.75 0 1,0 31.5,0a15.75,15.75 0 1,0 -31.5,0zM1444.5,274.3a15.75,15.75 0 1,0 31.5,0a15.75,15.75 0 1,0 -31.5,0zM1451.2,274.4a15.75,15.75 0 1,0 31.5,0a15.75,15.75 0 1,0 -31.5,0zM1458,274.4a15.75,15.75 0 1,0 31.5,0a15.75,15.75 0 1,0 -31.5,0zM1464.8,274.5a15.75,15.75 0 1,0 31.5,0a15.75,15.75 0 1,0 -31.5,0zM1471.6,274.6a15.75,15.75 0 1,0 31.5,0a15.75,15.75 0 1,0 -31.5,0zM1478.5,274.7a15.75,15.75 0 1,0 31.5,0a15.75,15.75 0 1,0 -31.5,0zM1485.2,274.8a15.75,15.75 0 1,0 31.5,0a15.75,15.75 0 1,0 -31.5,0zM1492,274.9a15.75,15.75 0 1,0 31.5,0a15.75,15.75 0 1,0 -31.5,0zM1498.8,275a15.75,15.75 0 1,0 31.5,0a15.75,15.75 0 1,0 -31.5,0zM1505.6,275.1a15.75,15.75 0 1,0 31.5,0a15.75,15.75 0 1,0 -31.5,0zM1512.5,275.2a15.75,15.75 0 1,0 31.5,0a15.75,15.75 0 1,0 -31.5,0zM1519.2,275.2a15.75,15.75 0 1,0 31.5,0a15.75,15.75 0 1,0 -31.5,0zM1526,275.3a15.75,15.75 0 1,0 31.5,0a15.75,15.75 0 1,0 -31.5,0zM1532.8,275.4a15.75,15.75 0 1,0 31.5,0a15.75,15.75 0 1,0 -31.5,0zM1539.6,275.5a15.75,15.75 0 1,0 31.5,0a15.75,15.75 0 1,0 -31.5,0zM1546.5,275.5a15.75,15.75 0 1,0 31.5,0a15.75,15.75 0 1,0 -31.5,0zM1553.2,275.6a15.75,15.75 0 1,0 31.5,0a15.75,15.75 0 1,0 -31.5,0zM1560,275.7a15.75,15.75 0 1,0 31.5,0a15.75,15.75 0 1,0 -31.5,0zM1566.8,275.8a15.75,15.75 0 1,0 31.5,0a15.75,15.75 0 1,0 -31.5,0zM1573.6,275.9a15.75,15.75 0 1,0 31.5,0a15.75,15.75 0 1,0 -31.5,0zM1580.5,275.9a15.75,15.75 0 1,0 31.5,0a15.75,15.75 0 1,0 -31.5,0zM1587.2,276a15.75,15.75 0 1,0 31.5,0a15.75,15.75 0 1,0 -31.5,0zM1594,276a15.75,15.75 0 1,0 31.5,0a15.75,15.75 0 1,0 -31.5,0zM1600.8,276a15.75,15.75 0 1,0 31.5,0a15.75,15.75 0 1,0 -31.5,0zM1607.6,276a15.75,15.75 0 1,0 31.5,0a15.75,15.75 0 1,0 -31.5,0zM1614.5,276a15.75,15.75 0 1,0 31.5,0a15.75,15.75 0 1,0 -31.5,0zM1621.2,276a15.75,15.75 0 1,0 31.5,0a15.75,15.75 0 1,0 -31.5,0zM1628,276a15.75,15.75 0 1,0 31.5,0a15.75,15.75 0 1,0 -31.5,0zM1634.8,276a15.75,15.75 0 1,0 31.5,0a15.75,15.75 0 1,0 -31.5,0zM1641.6,276a15.75,15.75 0 1,0 31.5,0a15.75,15.75 0 1,0 -31.5,0zM1648.5,276a15.75,15.75 0 1,0 31.5,0a15.75,15.75 0 1,0 -31.5,0zM1655.2,276a15.75,15.75 0 1,0 31.5,0a15.75,15.75 0 1,0 -31.5,0zM1662,276a15.75,15.75 0 1,0 31.5,0a15.75,15.75 0 1,0 -31.5,0zM1668.8,276a15.75,15.75 0 1,0 31.5,0a15.75,15.75 0 1,0 -31.5,0zM1675.6,276.2a15.75,15.75 0 1,0 31.5,0a15.75,15.75 0 1,0 -31.5,0zM1682.5,276.5a15.75,15.75 0 1,0 31.5,0a15.75,15.75 0 1,0 -31.5,0zM1689.2,276.7a15.75,15.75 0 1,0 31.5,0a15.75,15.75 0 1,0 -31.5,0zM1696,277a15.75,15.75 0 1,0 31.5,0a15.75,15.75 0 1,0 -31.5,0zM1702.8,277.2a15.75,15.75 0 1,0 31.5,0a15.75,15.75 0 1,0 -31.5,0zM1709.6,277.5a15.75,15.75 0 1,0 31.5,0a15.75,15.75 0 1,0 -31.5,0zM1716.5,277.7a15.75,15.75 0 1,0 31.5,0a15.75,15.75 0 1,0 -31.5,0zM1723.2,278a15.75,15.75 0 1,0 31.5,0a15.75,15.75 0 1,0 -31.5,0zM1730,278.3a15.75,15.75 0 1,0 31.5,0a15.75,15.75 0 1,0 -31.5,0zM1736.8,278.5a15.75,15.75 0 1,0 31.5,0a15.75,15.75 0 1,0 -31.5,0zM1743.6,278.8a15.75,15.75 0 1,0 31.5,0a15.75,15.75 0 1,0 -31.5,0zM1750.5,279a15.75,15.75 0 1,0 31.5,0a15.75,15.75 0 1,0 -31.5,0zM1757.2,279.3a15.75,15.75 0 1,0 31.5,0a15.75,15.75 0 1,0 -31.5,0zM1764,279.6a15.75,15.75 0 1,0 31.5,0a15.75,15.75 0 1,0 -31.5,0zM1770.8,279.9a15.75,15.75 0 1,0 31.5,0a15.75,15.75 0 1,0 -31.5,0zM1777.6,280.1a15.75,15.75 0 1,0 31.5,0a15.75,15.75 0 1,0 -31.5,0zM1784.5,280.4a15.75,15.75 0 1,0 31.5,0a15.75,15.75 0 1,0 -31.5,0zM1791.2,280.7a15.75,15.75 0 1,0 31.5,0a15.75,15.75 0 1,0 -31.5,0zM1798,281a15.75,15.75 0 1,0 31.5,0a15.75,15.75 0 1,0 -31.5,0zM1804.8,281.3a15.75,15.75 0 1,0 31.5,0a15.75,15.75 0 1,0 -31.5,0zM1811.6,281.5a15.75,15.75 0 1,0 31.5,0a15.75,15.75 0 1,0 -31.5,0zM1818.5,281.8a15.75,15.75 0 1,0 31.5,0a15.75,15.75 0 1,0 -31.5,0zM1825.2,282.1a15.75,15.75 0 1,0 31.5,0a15.75,15.75 0 1,0 -31.5,0zM1832,282.4a15.75,15.75 0 1,0 31.5,0a15.75,15.75 0 1,0 -31.5,0zM1838.8,282.7a15.75,15.75 0 1,0 31.5,0a15.75,15.75 0 1,0 -31.5,0zM1845.6,282.9a15.75,15.75 0 1,0 31.5,0a15.75,15.75 0 1,0 -31.5,0zM1852.5,283.2a15.75,15.75 0 1,0 31.5,0a15.75,15.75 0 1,0 -31.5,0zM1859.2,283.5a15.75,15.75 0 1,0 31.5,0a15.75,15.75 0 1,0 -31.5,0zM1866,283.8a15.75,15.75 0 1,0 31.5,0a15.75,15.75 0 1,0 -31.5,0zM1872.8,284.1a15.75,15.75 0 1,0 31.5,0a15.75,15.75 0 1,0 -31.5,0zM1879.6,284.4a15.75,15.75 0 1,0 31.5,0a15.75,15.75 0 1,0 -31.5,0zM1886.5,284.6a15.75,15.75 0 1,0 31.5,0a15.75,15.75 0 1,0 -31.5,0zM1893.2,284.9a15.75,15.75 0 1,0 31.5,0a15.75,15.75 0 1,0 -31.5,0zM1900,285.2a15.75,15.75 0 1,0 31.5,0a15.75,15.75 0 1,0 -31.5,0zM1906.8,285.5a15.75,15.75 0 1,0 31.5,0a15.75,15.75 0 1,0 -31.5,0zM1913.6,285.8a15.75,15.75 0 1,0 31.5,0a15.75,15.75 0 1,0 -31.5,0zM1920.5,286.1a15.75,15.75 0 1,0 31.5,0a15.75,15.75 0 1,0 -31.5,0zM1927.2,286.4a15.75,15.75 0 1,0 31.5,0a15.75,15.75 0 1,0 -31.5,0zM1934,286.7a15.75,15.75 0 1,0 31.5,0a15.75,15.75 0 1,0 -31.5,0zM1940.8,287.1a15.75,15.75 0 1,0 31.5,0a15.75,15.75 0 1,0 -31.5,0zM1947.6,287.4a15.75,15.75 0 1,0 31.5,0a15.75,15.75 0 1,0 -31.5,0zM1954.5,287.8a15.75,15.75 0 1,0 31.5,0a15.75,15.75 0 1,0 -31.5,0zM1961.2,288.1a15.75,15.75 0 1,0 31.5,0a15.75,15.75 0 1,0 -31.5,0zM1968,288.4a15.75,15.75 0 1,0 31.5,0a15.75,15.75 0 1,0 -31.5,0zM1974.8,288.8a15.75,15.75 0 1,0 31.5,0a15.75,15.75 0 1,0 -31.5,0zM1981.6,289.1a15.75,15.75 0 1,0 31.5,0a15.75,15.75 0 1,0 -31.5,0zM1988.5,289.4a15.75,15.75 0 1,0 31.5,0a15.75,15.75 0 1,0 -31.5,0zM1995.2,289.8a15.75,15.75 0 1,0 31.5,0a15.75,15.75 0 1,0 -31.5,0zM2002,290.2a15.75,15.75 0 1,0 31.5,0a15.75,15.75 0 1,0 -31.5,0zM2008.8,290.6a15.75,15.75 0 1,0 31.5,0a15.75,15.75 0 1,0 -31.5,0z" fill="#ff0000"/>
<polyline points="345,1412.3 351.8,1397.8 358.6,1379.7 365.4,1358.7 372.2,1332.4 379,1303 385.8,1269.5 392.6,1235 399.4,1198.5 406.2,1158.9 413,1120.2 419.8,1081 426.6,1043.2 433.4,1008.1 440.2,975.8 447,946 453.8,919 460.6,894.8 467.4,874.5 474.2,855.6 481,839.4 487.8,825.9 494.6,812.4 501.4,801.6 508.2,791.5 515,783.4 521.8,776 528.6,769.2 535.4,765.1 542.2,761.8 549,757.7 555.8,754.4 562.6,751.6 569.4,749.8 576.2,746.8 583,745.8 589.8,744.9 596.6,744.2 603.4,743.5 610.2,742.5 617,741.5 623.8,739.8 630.6,735.5 637.4,731.4 644.2,728.7 651,726 657.8,723.3 664.6,721 671.4,718.7 678.2,716.5 685,715.4 691.8,714.3 698.6,713.2 705.4,712 712.2,710.9 719,709.8 725.8,709 732.6,708.2 739.4,707.4 746.2,706.6 753,705.8 759.8,704.5 766.6,703.3 773.4,702.1 780.2,700.9 787,699.7 793.8,698.2 800.6,696.7 807.4,695.2 814.2,693.7 821,692.2 827.8,690.8 834.6,689.3 841.4,687.8 848.2,686.4 855,684.9 861.8,683.6 868.6,682.4 875.4,681.3 882.2,680.1 889,679 895.8,677.8 902.6,676.6 909.4,675.4 916.2,674.2 923,673 929.8,671.8 936.6,670.5 943.4,669.1 950.2,667.7 957,666.3 963.8,664.9 970.6,663.6 977.4,662.4 984.2,661.2 991,660.1 997.8,658.9 1004.6,657.7 1011.4,656.5 1018.2,655.3 1025,654.2 1031.8,653 1038.6,651.8 1045.4,650.6 1052.2,649.5 1059,648.4 1065.8,647.3 1072.6,646.1 1079.4,645 1086.2,643.6 1093,642.3 1099.8,641 1106.6,639.6 1113.4,638.2 1120.2,637.1 1127,635.9 1133.8,634.7 1140.6,633.5 1147.4,632.4 1154.2,631.3 1161,630.2 1167.8,629.2 1174.6,628.2 1181.4,627.1 1188.2,626.1 1195,624.8 1201.8,623.6 1208.6,622.3 1215.4,621 1222.2,619.7 1229,618.4 1235.8,617.1 1242.6,615.8 1249.4,614.5 1256.2,613.2 1263,612.2 1269.8,611.2 1276.6,610.4 1283.4,609.5 1290.2,608.6 1297,607.6 1303.8,606.8 1310.6,605.9 1317.4,605 1324.2,604.1 1331,603.2 1337.8,602.2 1344.6,601.4 1351.4,600.5 1358.2,599.9 1365,599.3 1371.8,598.7 1378.6,598.1 1385.4,597.6 1392.2,597 1399,596.4 1405.8,595.8 1412.6,595.2 1419.4,594.7 1426.2,594.1 1433,593.5 1439.8,592.9 1446.6,592.4 1453.4,591.9 1460.2,591.4 1467,590.9 1473.8,590.4 1480.6,589.9 1487.4,589.5 1494.2,589 1501,588.5 1507.8,588 1514.6,587.5 1521.4,587 1528.2,586.6 1535,586.1 1541.8,585.6 1548.6,585 1555.4,584.4 1562.2,583.7 1569,583.1 1575.8,582.5 1582.6,581.9 1589.4,581.3 1596.2,580.7 1603,580 1609.8,579.4 1616.6,578.8 1623.4,578.2 1630.2,577.6 1637,577 1643.8,576.6 1650.6,576.1 1657.4,575.7 1664.2,575.3 1671,574.9 1677.8,574.5 1684.6,574.1 1691.4,573.7 1698.2,573.3 1705,572.9 1711.8,572.5 1718.6,572.1 1725.4,571.7 1732.2,571.3 1739,570.9 1745.8,570.5 1752.6,570.2 1759.4,569.8 1766.2,569.5 1773,569.1 1779.8,568.8 1786.6,568.4 1793.4,568.1 1800.2,567.7 1807,567.4 1813.8,567 1820.6,566.7 1827.4,566.3 1834.2,566 1841,565.7 1847.8,565.3 1854.6,565 1861.4,564.7 1868.2,564.4 1875,564 1881.8,563.7 1888.6,563.4 1895.4,563 1902.2,562.7 1909,562.4 1915.8,562.1 1922.6,561.7 1929.4,561.4 1936.2,561 1943,560.7 1949.8,560.3 1956.6,560 1963.4,559.6 1970.2,559.3 1977,558.9 1983.8,558.6 1990.6,558.4 1997.4,558.1 2004.2,557.9 2011,557.7 2017.8,557.5 2024.6,557.2" fill="none" stroke="#000000" stroke-width="8" stroke-linejoin="round"/>
<path d="M330,1398h29v28h-29zM337,1384h29v28h-29zM344,1366h29v28h-29zM351,1345h29v28h-29zM358,1318h29v28h-29zM364,1289h29v28h-29zM371,1256h29v28h-29zM378,1221h29v28h-29zM385,1184h29v28h-29zM392,1145h29v28h-29zM398,1106h29v28h-29zM405,1067h29v28h-29zM412,1029h29v28h-29zM419,994h29v28h-29zM426,962h29v28h-29zM432,932h29v28h-29zM439,905h29v28h-29zM446,881h29v28h-29zM453,860h29v28h-29zM460,842h29v28h-29zM466,825h29v28h-29zM473,812h29v28h-29zM480,798h29v28h-29zM487,788h29v28h-29zM494,777h29v28h-29zM500,769h29v28h-29zM507,762h29v28h-29zM514,755h29v28h-29zM521,751h29v28h-29zM528,748h29v28h-29zM534,744h29v28h-29zM541,740h29v28h-29zM548,738h29v28h-29zM555,736h29v28h-29zM562,733h29v28h-29zM568,732h29v28h-29zM575,731h29v28h-29zM582,730h29v28h-29zM589,730h29v28h-29zM596,729h29v28h-29zM602,728h29v28h-29zM609,726h29v28h-29zM616,721h29v28h-29zM623,717h29v28h-29zM630,715h29v28h-29zM636,712h29v28h-29zM643,709h29v28h-29zM650,707h29v28h-29zM657,705h29v28h-29zM664,703h29v28h-29zM670,701h29v28h-29zM677,700h29v28h-29zM684,699h29v28h-29zM691,698h29v28h-29zM698,697h29v28h-29zM704,696h29v28h-29zM711,695h29v28h-29zM718,694h29v28h-29zM725,693h29v28h-29zM732,693h29v28h-29zM738,692h29v28h-29zM745,691h29v28h-29zM752,689h29v28h-29zM759,688h29v28h-29zM766,687h29v28h-29zM772,686h29v28h-29zM779,684h29v28h-29zM786,683h29v28h-29zM793,681h29v28h-29zM800,680h29v28h-29zM806,678h29v28h-29zM813,677h29v28h-29zM820,675h29v28h-29zM827,674h29v28h-29zM834,672h29v28h-29zM840,671h29v28h-29zM847,670h29v28h-29zM854,668h29v28h-29zM861,667h29v28h-29zM868,666h29v28h-29zM874,665h29v28h-29zM881,664h29v28h-29zM888,663h29v28h-29zM895,661h29v28h-29zM902,660h29v28h-29zM908,659h29v28h-29zM915,658h29v28h-29zM922,656h29v28h-29zM929,655h29v28h-29zM936,654h29v28h-29zM942,652h29v28h-29zM949,651h29v28h-29zM956,650h29v28h-29zM963,648h29v28h-29zM970,647h29v28h-29zM976,646h29v28h-29zM983,645h29v28h-29zM990,644h29v28h-29zM997,643h29v28h-29zM1004,641h29v28h-29zM1010,640h29v28h-29zM1017,639h29v28h-29zM1024,638h29v28h-29zM1031,637h29v28h-29zM1038,636h29v28h-29zM1044,634h29v28h-29zM1051,633h29v28h-29zM1058,632h29v28h-29zM1065,631h29v28h-29zM1072,630h29v28h-29zM1078,628h29v28h-29zM1085,627h29v28h-29zM1092,626h29v28h-29zM1099,624h29v28h-29zM1106,623h29v28h-29zM1112,622h29v28h-29zM1119,621h29v28h-29zM1126,620h29v28h-29zM1133,618h29v28h-29zM1140,617h29v28h-29zM1146,616h29v28h-29zM1153,615h29v28h-29zM1160,614h29v28h-29zM1167,613h29v28h-29zM1174,612h29v28h-29zM1180,611h29v28h-29zM1187,610h29v28h-29zM1194,608h29v28h-29zM1201,607h29v28h-29zM1208,606h29v28h-29zM1214,604h29v28h-29zM1221,603h29v28h-29zM1228,602h29v28h-29zM1235,601h29v28h-29zM1242,599h29v28h-29zM1248,598h29v28h-29zM1255,597h29v28h-29zM1262,596h29v28h-29zM1269,595h29v28h-29zM1276,595h29v28h-29zM1282,594h29v28h-29zM1289,593h29v28h-29zM1296,592h29v28h-29zM1303,591h29v28h-29zM1310,590h29v28h-29zM1316,589h29v28h-29zM1323,588h29v28h-29zM1330,587h29v28h-29zM1337,586h29v28h-29zM1344,586h29v28h-29zM1350,585h29v28h-29zM1357,585h29v28h-29zM1364,584h29v28h-29zM1371,584h29v28h-29zM1378,583h29v28h-29zM1384,582h29v28h-29zM1391,582h29v28h-29zM1398,581h29v28h-29zM1405,581h29v28h-29zM1412,580h29v28h-29zM1418,580h29v28h-29zM1425,579h29v28h-29zM1432,578h29v28h-29zM1439,578h29v28h-29zM1446,577h29v28h-29zM1452,577h29v28h-29zM1459,576h29v28h-29zM1466,576h29v28h-29zM1473,575h29v28h-29zM1480,575h29v28h-29zM1486,574h29v28h-29zM1493,574h29v28h-29zM1500,574h29v28h-29zM1507,573h29v28h-29zM1514,573h29v28h-29zM1520,572h29v28h-29zM1527,572h29v28h-29zM1534,571h29v28h-29zM1541,570h29v28h-29zM1548,570h29v28h-29zM1554,569h29v28h-29zM1561,569h29v28h-29zM1568,568h29v28h-29zM1575,567h29v28h-29zM1582,567h29v28h-29zM1588,566h29v28h-29zM1595,565h29v28h-29zM1602,565h29v28h-29zM1609,564h29v28h-29zM1616,564h29v28h-29zM1622,563h29v28h-29zM1629,563h29v28h-29zM1636,562h29v28h-29zM1643,562h29v28h-29zM1650,561h29v28h-29zM1656,561h29v28h-29zM1663,561h29v28h-29zM1670,560h29v28h-29zM1677,560h29v28h-29zM1684,559h29v28h-29zM1690,559h29v28h-29zM1697,558h29v28h-29zM1704,558h29v28h-29zM1711,558h29v28h-29zM1718,557h29v28h-29zM1724,557h29v28h-29zM1731,557h29v28h-29zM1738,556h29v28h-29zM1745,556h29v28h-29zM1752,555h29v28h-29zM1758,555h29v28h-29zM1765,555h29v28h-29zM1772,554h29v28h-29zM1779,554h29v28h-29zM1786,554h29v28h-29zM1792,553h29v28h-29zM1799,553h29v28h-29zM1806,553h29v28h-29zM1813,552h29v28h-29zM1820,552h29v28h-29zM1826,552h29v28h-29zM1833,551h29v28h-29zM1840,551h29v28h-29zM1847,551h29v28h-29zM1854,550h29v28h-29zM1860,550h29v28h-29zM1867,550h29v28h-29zM1874,549h29v28h-29zM1881,549h29v28h-29zM1888,549h29v28h-29zM1894,548h29v28h-29zM1901,548h29v28h-29zM1908,548h29v28h-29zM1915,547h29v28h-29zM1922,547h29v28h-29zM1928,547h29v28h-29zM1935,546h29v28h-29zM1942,546h29v28h-29zM1949,546h29v28h-29zM1956,545h29v28h-29zM1962,545h29v28h-29zM1969,545h29v28h-29zM1976,544h29v28h-29zM1983,544h29v28h-29zM1990,544h29v28h-29zM1996,544h29v28h-29zM2003,543h29v28h-29zM2010,543h29v28h-29z" fill="#000000"/>
</g>
<text class="yt" x="247" y="1478.8">0</text>
<text class="yt" x="247" y="1208.8">20</text>
<text class="yt" x="247" y="938.8">40</text>
<text class="yt" x="247" y="668.8">60</text>
<text class="yt" x="247" y="398.8">80</text>
<text class="yt" x="247" y="128.8">100</text>
<text class="xt" x="345" y="1557">300</text>
<text class="xt" x="685" y="1557">400</text>
<text class="xt" x="1025" y="1557">500</text>
<text class="xt" x="1365" y="1557">600</text>
<text class="xt" x="1705" y="1557">700</text>
<text class="xt" x="2045" y="1557">800</text>
<text class="ttl" x="790" y="1655.5">Wave Length /nm</text>
<text class="ttl" transform="translate(89.5,1064) rotate(-90)">Transmittance/%</text>
<line x1="851.5" y1="1081.5" x2="1047.5" y2="1081.5" stroke="#0000ff" stroke-width="9.5" stroke-linecap="round"/>
<rect x="935" y="1067" width="29" height="28" fill="#0000ff"/>
<text class="lg" x="1069" y="1111.3999999999999">Superhydrophobic surface</text>
<line x1="851.5" y1="1188.4" x2="1047.5" y2="1188.4" stroke="#ff0000" stroke-width="9.5" stroke-linecap="round"/>
<circle cx="949.5" cy="1188.4" r="15.6" fill="#ff0000"/>
<text class="lg" x="1069" y="1218.8999999999999">Superhydrophibic surface</text>
<line x1="851.5" y1="1296.1" x2="1047.5" y2="1296.1" stroke="#000000" stroke-width="9.5" stroke-linecap="round"/>
<rect x="935" y="1281.6" width="29" height="28" fill="#000000"/>
<text class="lg" x="1069" y="1324.8999999999999">Bare surface</text>
</svg>
</body></html>
